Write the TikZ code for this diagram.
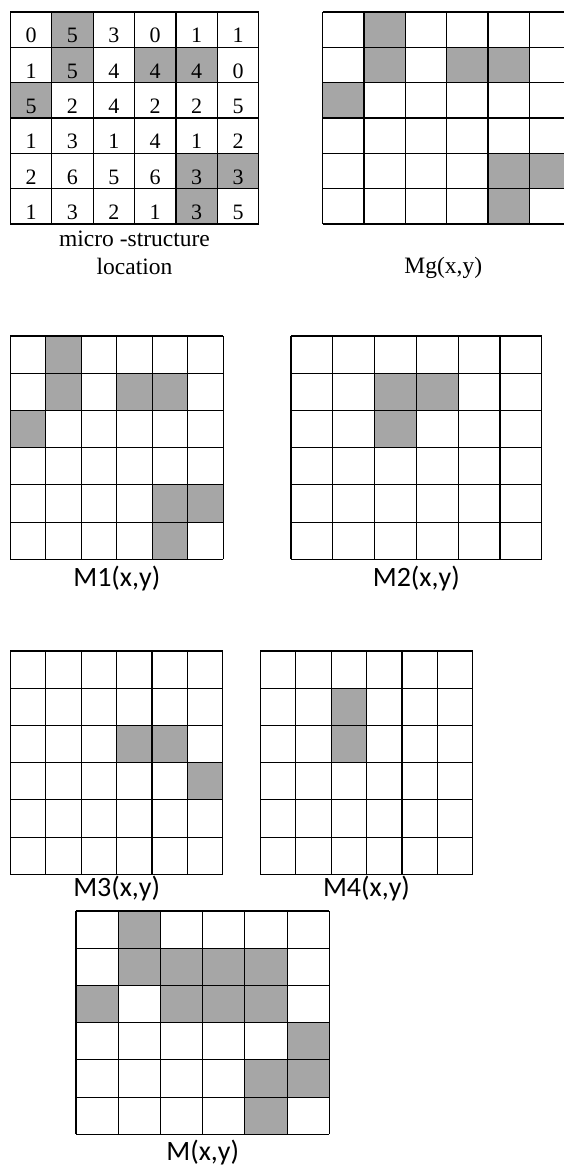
\documentclass[tikz,border=0pt]{standalone}
\usepackage{fontspec}
\setmainfont{Liberation Serif}
\newfontfamily\calib{Carlito}
\definecolor{cellgray}{RGB}{166,166,166}
\tikzset{
  gridline/.style={line width=1.2pt, black},
  shadecell/.style={fill=cellgray},
  digit/.style={anchor=base, font=\fontsize{22}{25}\selectfont, inner sep=0pt},
  serlabel/.style={anchor=base, font=\fontsize{23.5}{27}\selectfont, inner sep=0pt},
  callabel/.style={anchor=base, font=\calib\fontsize{28}{32}\selectfont, inner sep=0pt},
}
% #1 x0, #2 y0, #3 cell width, #4 cell height, #5 shaded r/c list
\newcommand{\cellgrid}[5]{%
  \foreach \r/\c in {#5} {\fill[shadecell] ({#1+\c*#3},{#2+\r*#4}) rectangle ++(#3,#4);}
  \foreach \i in {0,...,6} {
    \draw[gridline] ({#1+\i*#3},#2) -- ++(0,{6*#4});
    \draw[gridline] (#1,{#2+\i*#4}) -- ++({6*#3},0);
  }%
}
\begin{document}
\begin{tikzpicture}[x=1pt,y=-1pt]
\clip (0,0) rectangle (564,1168);
\fill[white] (0,0) rectangle (564,1168);
% micro-structure grid
\cellgrid{10.3}{12}{41.4}{35.33}{0/1,1/1,1/3,1/4,2/0,4/4,4/5,5/4}
\foreach \row [count=\r from 0] in {{0,5,3,0,1,1},{1,5,4,4,4,0},{5,2,4,2,2,5},{1,3,1,4,1,2},{2,6,5,6,3,3},{1,3,2,1,3,5}} {
  \foreach \v [count=\c from 0] in \row {
    \node[digit] (n-\r-\c) at ({10.3+41.4*\c+20.7},{12+35.33*(\r+1)-4.5}) {\v};
  }
}
\node[serlabel] (lab0) at (134.5,246.7) {micro -structure};
\node[serlabel] (lab0b) at (134.5,274) {location};
% Mg
\cellgrid{322.7}{12}{41.3}{35.33}{0/1,1/1,1/3,1/4,2/0,4/4,4/5,5/4}
\node[serlabel] (labg) at (443.3,273.5) {Mg(x,y)};
% M1
\cellgrid{10.3}{336}{35.5}{37.22}{0/1,1/1,1/3,1/4,2/0,4/4,4/5,5/4}
\node[callabel] (lab1) at (116.8,586.7) {M1(x,y)};
% M2
\cellgrid{291}{336}{41.78}{37.22}{1/2,1/3,2/2}
\node[callabel] (lab2) at (416.3,586.7) {M2(x,y)};
% M3
\cellgrid{10.3}{651}{35.4}{37.22}{2/3,2/4,3/5}
\node[callabel] (lab3) at (116.7,896.7) {M3(x,y)};
% M4
\cellgrid{260.3}{651}{35.4}{37.22}{1/2,2/2}
\node[callabel] (lab4) at (366.5,896.7) {M4(x,y)};
% M
\cellgrid{76}{911}{42.22}{37.22}{0/1,1/1,1/2,1/3,1/4,2/0,2/2,2/3,2/4,3/5,4/4,4/5,5/4}
\node[callabel] (lab5) at (202.7,1160) {M(x,y)};
\end{tikzpicture}
\end{document}
